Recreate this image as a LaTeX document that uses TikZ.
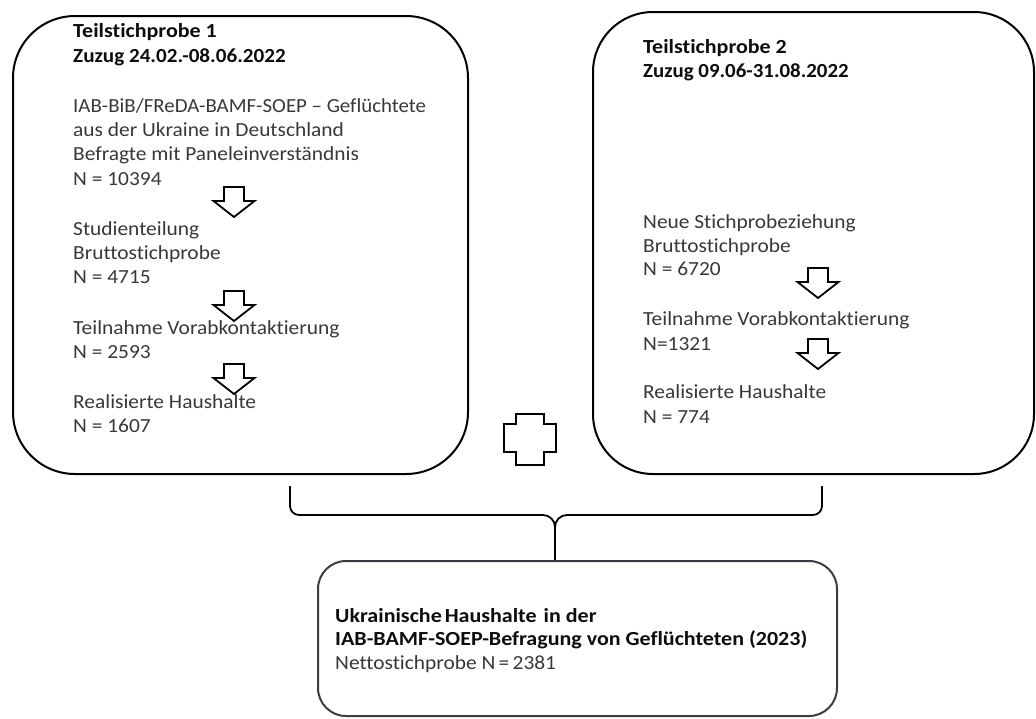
\documentclass[tikz,border=0pt]{standalone}
\usepackage{fontspec}
\usepackage{graphicx}
\setmainfont{Carlito}[RawFeature={-liga;-dlig;-clig}, FakeStretch=1.07, BoldFeatures={FakeStretch=1.1}]
\begin{document}
\begin{tikzpicture}[x=1pt,y=-1pt,
  box/.style={draw=black, line width=2pt, rounded corners=#1, inner sep=0pt, anchor=north west},
  box/.default=60pt,
  txt/.style={anchor=base west, inner sep=0pt, font=\fontsize{20}{24}\selectfont, text=black!78},
  hdr/.style={txt, font=\fontsize{20}{24}\selectfont\bfseries, text=black!95},
  blockarrow/.style={draw=black, line width=1.8pt, line join=miter},
  link/.style={draw=black, line width=1.8pt}]
\useasboundingbox (0,0) rectangle (1036,718);
\fill[white] (0,0) rectangle (1036,718);

% boxes
\node[box=62pt, minimum width=455pt, minimum height=458pt] (b1) at (12,15) {};
\node[box=60pt, minimum width=441pt, minimum height=462pt] (b2) at (592,11) {};
\node[box=28pt, draw=black!85!cyan, minimum width=519pt, minimum height=155pt] (b3) at (317,560) {};

% left texts
\node[hdr] (l1) at (73,37) {Teilstichprobe 1};
\node[hdr] (l2) at (73,62) {\scalebox{0.96}[1]{Zuzug 24.02.-08.06.2022}};
\node[txt] (l3) at (73,112) {\scalebox{0.975}[1]{IAB-BiB/FReDA-BAMF-SOEP – Geflüchtete}};
\node[txt] (l4) at (73,136) {aus der Ukraine in Deutschland};
\node[txt] (l5) at (73,160) {Befragte mit Paneleinverständnis};
\node[txt] (l6) at (73,185) {N = 10394};
\node[txt] (l7) at (73,235) {Studienteilung};
\node[txt] (l8) at (73,259) {Bruttostichprobe};
\node[txt] (l9) at (73,283) {N = 4715};
\node[txt] (l10) at (73,334) {Teilnahme Vorabkontaktierung};
\node[txt] (l11) at (73,358) {N = 2593};
\node[txt] (l12) at (73,408) {Realisierte Haushalte};
\node[txt] (l13) at (73,432) {N = 1607};

% right texts
\node[hdr] (r1) at (643,53) {Teilstichprobe 2};
\node[hdr] (r2) at (643,77) {\scalebox{0.95}[1]{Zuzug 09.06-31.08.2022}};
\node[txt] (r3) at (643,228) {Neue Stichprobeziehung};
\node[txt] (r4) at (643,252) {Bruttostichprobe};
\node[txt] (r5) at (643,275) {N = 6720};
\node[txt] (r6) at (643,325) {Teilnahme Vorabkontaktierung};
\node[txt] (r7) at (643,350) {N=1321};
\node[txt] (r8) at (643,398) {Realisierte Haushalte};
\node[txt] (r9) at (643,423) {N = 774};

% bottom texts
\node[hdr] (m1) at (335,622) {Ukrainische\hspace{3pt}Haushalte\hspace{7pt}in der};
\node[hdr] (m2) at (335,645) {IAB-BAMF-SOEP-Befragung von Geflüchteten (2023)};
\node[txt] (m3) at (335,669) {Nettostichprobe N\,=\,2381};

% block arrows
\foreach \cx/\ty in {234/187, 234/291, 234/364, 818/268, 818/339}{
  \draw[blockarrow] (\cx-10,\ty) -- (\cx+10,\ty) -- (\cx+10,\ty+14) -- (\cx+20.5,\ty+14)
    -- (\cx,\ty+30) -- (\cx-20.5,\ty+14) -- (\cx-10,\ty+14) -- cycle;
}

% plus sign
\draw[blockarrow] (516,414) -- (544,414) -- (544,424) -- (556,424) -- (556,452) -- (544,452)
  -- (544,465) -- (516,465) -- (516,452) -- (504,452) -- (504,424) -- (516,424) -- cycle;

% brace
\coordinate (tip) at (555,527);
\draw[link] (290,486) -- (290,506) to[out=-90,in=180] (299,515) -- (543,515)
  to[out=0,in=90] (tip) -- (tip |- b3.north);
\draw[link] (822,486) -- (822,506) to[out=-90,in=0] (813,515) -- (567,515)
  to[out=180,in=90] (tip);
\end{tikzpicture}
\end{document}
